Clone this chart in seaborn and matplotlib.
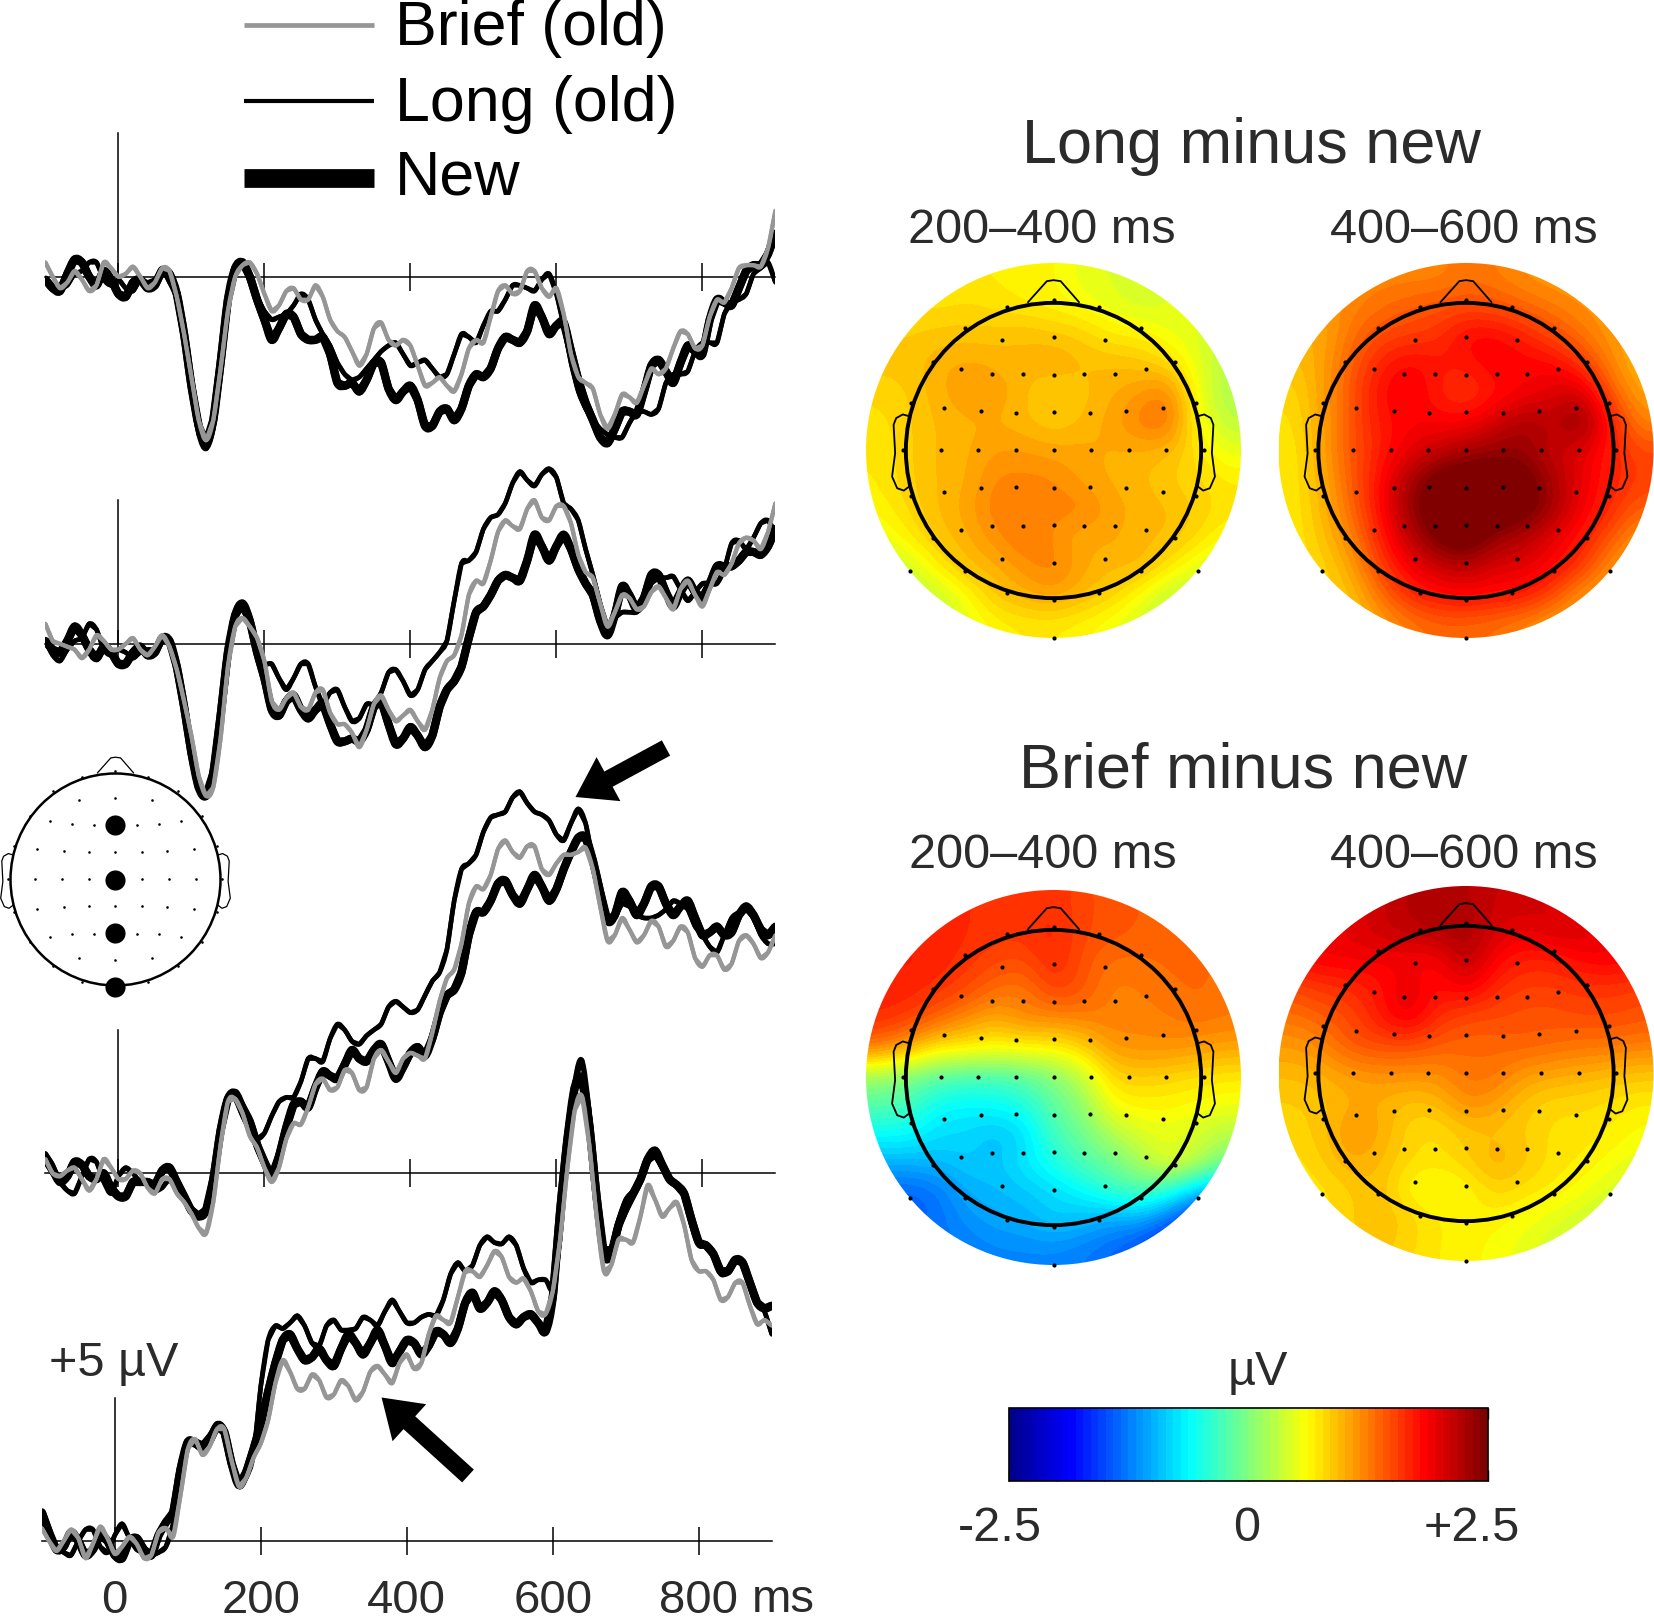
import numpy as np
import pandas as pd
import matplotlib
matplotlib.use("Agg")
import matplotlib.pyplot as plt
from matplotlib.colors import LinearSegmentedColormap, Normalize
from matplotlib.cm import ScalarMappable
from matplotlib.patches import Circle, PathPatch
from matplotlib.path import Path
import seaborn as sns

# ---------------- waveform data (microvolts, 10 ms steps) ----------------
times = list(range(-100, 901, 10))
conditions = ["New", "Long (old)", "Brief (old)"]

new_row1 = [-0.1,-0.4,-0.5,0.1,0.6,0.5,0.0,-0.3,0.2,-0.1,
-0.6,-0.7,-0.2,-0.1,-0.4,-0.3,0.2,0.1,-0.6,-2.0,
-3.8,-5.2,-5.8,-5.0,-3.0,-0.8,0.3,0.5,0.0,-0.8,
-1.5,-2.2,-1.8,-1.3,-1.4,-2.0,-2.2,-2.2,-2.1,-2.7,
-3.7,-3.8,-3.7,-4.0,-3.6,-3.0,-3.0,-3.9,-4.3,-4.0,
-3.8,-4.3,-5.2,-5.2,-4.7,-4.6,-5.0,-4.6,-3.8,-3.4,
-3.5,-3.2,-2.5,-2.1,-2.2,-2.3,-1.9,-1.0,-1.4,-2.0,
-1.7,-1.6,-2.6,-3.6,-4.4,-5.0,-5.6,-5.8,-5.3,-4.7,
-4.7,-4.8,-4.0,-3.1,-2.9,-3.3,-3.7,-3.0,-2.4,-2.6,
-2.7,-1.5,-0.8,-0.9,-1.0,-0.4,0.2,0.4,0.4,0.8,1.5]
long_row1 = [-0.2,-0.3,-0.4,-0.3,0.1,0.2,0.5,0.5,-0.1,-0.3,
-0.1,-0.4,-0.5,-0.1,-0.2,-0.1,0.3,-0.2,-0.7,-2.2,
-4.0,-5.5,-6.0,-5.3,-3.3,-1.0,0.2,0.4,0.0,-0.7,
-1.2,-1.5,-1.4,-1.3,-1.0,-0.6,-0.8,-1.5,-2.0,-2.4,
-3.0,-3.4,-3.6,-3.5,-3.2,-2.9,-2.6,-2.4,-2.3,-2.7,
-3.1,-3.0,-2.9,-3.2,-3.5,-3.4,-2.7,-2.0,-2.1,-2.3,
-1.7,-1.2,-1.2,-0.8,-0.3,-0.3,-0.4,-0.5,-0.1,0.1,
-0.6,-1.7,-3.0,-4.0,-4.6,-5.0,-5.3,-5.5,-5.6,-5.6,
-5.1,-4.7,-4.7,-4.8,-4.6,-3.7,-3.4,-3.4,-3.3,-2.6,
-2.3,-2.3,-2.3,-1.3,-0.9,-0.8,-0.6,0.1,0.3,0.5,-0.2]
brief_row1 = [0.5,0.0,-0.4,-0.2,0.2,-0.1,-0.5,-0.3,0.5,0.3,
0.0,0.1,0.35,0.0,-0.4,-0.2,0.3,0.2,-0.7,-2.0,
-3.5,-5.0,-5.7,-5.0,-3.2,-1.2,0.0,0.4,0.5,0.1,
-0.6,-1.2,-1.0,-0.5,-0.4,-0.8,-0.8,-0.3,-0.7,-1.5,
-1.9,-2.1,-2.6,-3.1,-2.7,-1.8,-1.6,-2.2,-2.4,-2.2,
-2.4,-3.1,-3.8,-3.7,-3.5,-3.8,-4.0,-3.4,-2.5,-2.2,
-2.3,-1.4,-0.5,-0.3,-0.6,-0.5,0.2,0.2,-0.4,-0.7,
-0.4,-1.3,-2.7,-3.5,-3.7,-3.9,-4.8,-5.3,-4.8,-4.1,
-4.2,-4.4,-3.8,-3.2,-3.4,-3.2,-2.5,-1.9,-2.0,-2.5,
-2.4,-1.4,-0.8,-0.9,-0.4,0.3,0.4,0.4,0.35,1.0,2.3]

new_row2 = [0.1,-0.2,-0.3,0.1,0.6,0.3,-0.2,-0.5,-0.1,-0.3,
-0.7,-0.7,-0.3,-0.1,-0.4,-0.3,0.2,0.1,-0.8,-2.2,
-3.8,-5.0,-5.3,-4.5,-2.5,-0.3,1.0,1.4,0.8,-0.3,
-1.2,-2.3,-2.5,-2.0,-1.8,-2.3,-2.6,-2.3,-2.1,-2.8,
-3.4,-3.4,-3.3,-3.4,-3.0,-2.2,-2.0,-2.8,-3.5,-3.3,
-2.9,-3.2,-3.6,-3.2,-2.2,-1.6,-1.3,-0.8,0.2,1.1,
1.3,1.7,2.2,2.4,2.3,2.2,2.9,3.8,3.4,2.9,
3.4,3.8,3.3,2.6,2.1,1.7,0.8,0.3,1.0,2.0,
1.7,1.2,1.6,2.4,2.4,1.8,1.3,1.8,2.2,1.8,
1.6,2.1,2.7,2.7,2.7,2.9,3.2,3.2,3.1,3.4,4.0]
long_row2 = [0.1,-0.4,-0.6,-0.2,0.1,0.2,0.7,0.5,-0.2,-0.4,
-0.2,-0.3,-0.5,-0.3,-0.2,-0.2,0.1,0.0,-0.7,-2.2,
-3.8,-5.0,-5.3,-4.3,-2.3,-0.1,1.1,1.2,0.7,-0.2,
-0.7,-0.7,-1.2,-1.6,-1.2,-0.7,-0.7,-1.5,-2.1,-1.7,
-1.6,-2.2,-2.7,-2.6,-2.1,-2.1,-1.7,-1.0,-0.9,-1.3,
-1.8,-1.6,-0.9,-0.6,-0.3,0.1,1.5,2.8,2.9,3.2,
4.0,4.4,4.5,4.9,5.6,6.0,5.7,5.5,5.9,6.1,
5.8,4.9,4.7,4.3,3.3,2.4,1.4,0.6,0.9,1.1,
1.1,1.1,1.4,2.1,2.3,2.3,2.35,1.9,1.5,1.8,
2.1,2.1,2.1,2.6,3.5,3.6,3.3,3.7,4.2,4.3,3.85]
brief_row2 = [0.7,0.1,0.0,-0.1,-0.2,-0.5,-0.2,0.3,0.1,-0.2,
-0.2,0.0,0.2,-0.2,-0.4,-0.1,0.3,-0.1,-0.9,-2.0,
-3.2,-4.6,-5.3,-5.0,-3.3,-0.8,0.6,0.9,0.6,0.2,
-0.6,-2.0,-2.3,-1.9,-1.7,-2.2,-2.3,-1.7,-1.6,-2.4,
-2.8,-2.8,-3.1,-3.6,-3.0,-2.1,-1.8,-2.3,-2.7,-2.5,
-2.3,-2.7,-3.0,-2.3,-1.2,-0.6,-0.4,0.3,1.7,2.2,
2.1,2.9,3.9,4.3,4.1,4.0,4.7,5.0,4.4,4.3,
4.8,4.8,4.2,3.1,2.5,2.3,1.4,0.6,1.1,1.7,
1.6,1.2,1.3,1.8,2.0,1.6,1.2,1.9,2.2,1.7,
1.3,1.9,2.5,2.4,2.8,3.5,3.7,3.6,3.3,3.9,4.9]

new_row3 = [0.5,0.1,-0.3,-0.1,0.4,0.3,-0.1,-0.2,0.0,-0.5,
-0.8,-0.8,-0.3,-0.3,-0.3,-0.4,0.1,0.2,-0.3,-0.8,
-1.3,-1.5,-1.3,-0.2,1.5,2.6,2.8,2.3,1.8,1.0,
0.4,-0.1,0.6,1.6,2.4,2.5,2.3,3.0,3.55,3.4,
3.3,3.8,4.3,4.0,3.9,4.3,4.5,3.9,3.3,3.7,
4.2,4.4,4.1,4.7,5.6,6.2,6.4,7.0,8.3,9.1,
9.1,9.5,10.1,10.2,9.7,9.4,9.9,10.4,10.0,9.5,
9.9,10.6,11.2,11.7,11.7,10.9,9.8,8.8,9.0,9.8,
9.5,9.0,9.4,10.0,10.0,9.4,9.0,9.3,9.5,8.9,
8.3,8.4,8.6,8.3,8.4,9.0,9.3,9.0,8.5,8.3,8.6]
long_row3 = [0.7,0.3,-0.3,-0.6,-0.7,-0.1,0.5,0.4,-0.3,-0.7,
-0.1,0.2,0.0,-0.3,-0.3,-0.6,-0.5,-0.2,-0.6,-0.9,
-1.2,-1.4,-1.2,0.0,1.7,2.7,2.6,2.0,1.5,1.2,
1.4,2.0,2.5,2.65,2.65,3.2,4.0,4.0,3.9,4.7,
5.2,5.0,4.6,4.5,4.8,5.0,5.2,5.8,6.0,5.8,
5.6,5.7,6.2,6.7,7.0,7.8,9.5,10.6,10.8,11.1,
11.9,12.4,12.5,12.6,13.1,13.3,12.9,12.6,12.5,12.3,
11.8,11.6,12.2,12.7,12.2,10.9,9.7,8.8,8.9,9.4,
9.3,9.0,8.9,8.9,9.0,9.2,9.5,9.4,9.2,8.6,
8.3,7.9,7.7,8.3,8.9,9.1,9.2,8.9,8.3,8.0,8.0]
brief_row3 = [0.5,0.0,-0.1,0.1,0.2,-0.2,-0.6,-0.2,0.5,0.2,
-0.2,-0.2,0.1,0.0,-0.5,-0.7,-0.2,-0.2,-0.7,-1.0,
-1.4,-1.9,-2.1,-1.0,1.0,2.5,2.6,2.1,1.3,0.9,
0.2,-0.3,0.2,1.2,1.75,1.7,2.3,3.1,3.3,2.9,
3.0,3.6,3.5,2.9,3.0,4.0,4.3,3.9,3.5,4.0,
4.2,4.1,4.0,4.9,6.0,6.8,7.1,8.0,9.4,10.0,
9.9,10.4,11.3,11.6,11.2,11.0,11.4,11.4,10.6,10.4,
10.8,11.1,11.1,11.2,11.35,10.6,9.3,8.1,8.3,8.9,
8.5,8.05,8.3,8.8,8.6,7.9,8.1,8.6,8.4,7.5,
7.2,7.6,7.6,7.1,7.3,8.1,8.3,8.0,7.5,7.7,8.3]

new_row4 = [1.0,0.3,-0.3,-0.2,0.3,0.0,-0.5,-0.3,0.2,0.0,
-0.5,-0.6,0.0,0.1,-0.3,-0.5,0.2,0.65,1.0,2.5,
3.45,3.4,3.25,3.5,4.0,3.8,2.7,1.95,2.4,3.2,
4.1,5.2,6.2,7.0,7.2,6.7,6.3,6.4,6.7,6.3,
6.1,6.7,7.2,6.9,6.5,6.9,7.35,6.8,6.2,6.6,
7.0,6.9,6.5,6.8,7.3,7.2,6.9,7.4,8.3,8.65,
8.1,8.3,8.7,8.4,7.8,7.55,7.8,7.9,7.6,7.3,
8.5,11.5,14.0,15.8,16.1,14.5,12.0,10.0,10.0,11.0,
11.6,12.1,12.6,13.3,13.6,13.1,12.6,12.4,12.1,11.2,
10.4,10.3,10.0,9.4,9.4,9.8,9.7,9.0,8.3,8.1,8.2]
long_row4 = [1.0,0.2,-0.2,-0.4,-0.5,0.0,0.4,0.4,-0.2,-0.4,
0.2,0.6,0.1,-0.3,-0.4,-0.5,-0.4,-0.2,0.6,2.4,
3.4,3.5,3.4,3.7,4.1,3.9,2.8,1.9,2.2,3.0,
5.4,7.0,7.5,7.4,7.6,7.85,7.5,6.9,6.8,7.5,
7.7,7.35,7.35,7.4,7.8,7.7,7.5,8.0,8.4,8.0,
7.6,7.6,7.8,7.9,7.85,8.4,9.3,9.7,9.4,9.6,
10.3,10.6,10.4,10.35,10.6,10.3,9.5,9.0,9.1,9.1,
8.8,10.5,13.5,16.0,16.75,15.0,12.2,10.2,10.2,11.2,
11.9,12.2,12.5,13.2,13.4,13.0,12.6,12.4,12.1,11.0,
10.3,10.3,10.0,9.3,9.4,9.8,9.7,9.0,8.3,8.0,7.2]
brief_row4 = [0.45,0.0,-0.35,0.0,0.4,0.1,-0.6,-0.1,0.5,0.1,
-0.45,-0.2,0.15,-0.1,-0.6,-0.5,0.3,0.45,0.15,1.6,
3.2,3.55,3.0,3.3,3.9,3.9,2.8,1.9,2.2,2.9,
3.4,4.2,5.5,6.3,5.9,5.3,5.3,5.8,5.6,5.0,
5.1,5.6,5.4,4.9,5.2,5.9,6.1,5.8,5.5,6.2,
6.5,6.0,6.2,7.2,7.85,7.7,7.6,8.5,9.4,9.4,
9.2,9.6,10.1,9.9,9.2,9.0,9.15,8.7,8.0,7.9,
8.7,10.5,13.0,15.0,15.5,13.8,11.3,9.4,9.6,10.5,
10.5,10.4,11.3,12.4,11.9,11.3,11.6,11.8,11.0,9.8,
9.4,9.4,9.1,8.4,8.5,9.0,9.0,8.2,7.55,7.7,7.5]

# ---------------- scalp map data (microvolts, top row first) ----------------
long_200_400 = [
[.7,.7,.7,.7,.7,.65,.65,.5,.45,.45,.5,.5,.5],
[.8,.8,.75,.8,.75,.7,.65,.6,.5,.4,.45,.5,.5],
[.85,.85,.9,.9,.9,.95,.9,.85,.7,.7,.55,.45,.35],
[.9,.9,1.0,1.05,1.0,.95,1.05,.95,.95,.9,.8,.5,.25],
[.8,.85,1.0,1.1,1.1,.95,.8,.9,1.0,1.1,1.25,.55,.2],
[.75,.85,.95,1.0,1.0,.95,.85,.95,1.05,1.25,1.35,.6,.3],
[.7,.85,.95,1.0,1.1,1.1,1.05,1.05,1.0,1.0,.95,.75,.5],
[.7,.85,.95,1.0,1.2,1.2,1.2,1.05,1.0,.95,.85,.8,.7],
[.65,.8,.95,1.05,1.25,1.25,1.2,1.25,1.05,1.0,.95,.85,.75],
[.5,.7,.9,1.0,1.15,1.3,1.15,1.0,1.05,.95,.95,.8,.6],
[.3,.4,.7,.95,1.0,1.15,1.25,1.05,.95,1.0,.75,.5,.35],
[.3,.3,.35,.6,.9,1.0,1.1,.95,.85,.6,.3,.3,.3],
[.3,.3,.3,.5,.65,.7,.7,.65,.55,.4,.3,.3,.3]]
long_400_600 = [
[1.1,1.1,1.2,1.2,1.2,1.2,1.3,1.25,1.15,1.1,1.1,1.1,1.1],
[1.1,1.1,1.2,1.3,1.4,1.45,1.5,1.45,1.35,1.25,1.15,1.1,1.1],
[1.0,1.0,1.3,1.5,1.55,1.6,1.85,1.85,1.7,1.5,1.3,1.1,1.0],
[.9,1.05,1.4,1.7,1.85,1.75,1.75,1.9,1.85,1.85,1.6,1.2,.95],
[.8,1.05,1.45,1.8,1.95,1.7,1.55,1.75,1.85,2.0,2.1,1.4,1.05],
[.75,1.05,1.45,1.75,1.85,1.85,1.85,2.05,2.3,2.15,2.45,1.75,1.2],
[.7,1.05,1.45,1.7,1.95,2.1,2.25,2.35,2.35,2.1,2.0,1.7,1.5],
[.7,1.0,1.4,1.8,2.25,2.6,2.75,2.7,2.6,2.25,1.95,1.7,1.55],
[.7,.95,1.35,1.8,2.35,2.7,2.75,2.7,2.65,2.3,1.9,1.65,1.4],
[.7,.9,1.2,1.7,2.15,2.55,2.75,2.35,2.2,1.95,1.75,1.45,1.1],
[.7,.8,1.05,1.55,1.9,2.1,2.2,2.0,2.0,1.85,1.6,1.15,.95],
[.8,.8,.9,1.3,1.65,1.8,1.85,1.8,1.75,1.5,1.1,1.0,.95],
[.8,.8,.85,1.05,1.25,1.35,1.35,1.3,1.2,1.05,1.0,1.0,1.0]]
brief_200_400 = [
[1.6,1.6,1.65,1.65,1.6,1.6,1.65,1.5,1.45,1.4,1.4,1.4,1.4],
[1.7,1.7,1.7,1.65,1.6,1.6,1.7,1.5,1.45,1.4,1.35,1.35,1.35],
[1.7,1.75,1.7,1.6,1.5,1.45,1.7,1.45,1.3,1.3,1.35,1.35,1.3],
[1.7,1.7,1.6,1.5,1.3,1.25,1.55,1.45,1.2,1.25,1.3,1.35,1.3],
[1.65,1.55,1.35,1.15,1.0,1.2,1.15,1.2,1.25,1.2,1.25,1.3,1.25],
[1.25,1.0,.7,.7,.6,.65,.65,.8,1.1,1.15,1.15,1.1,1.05],
[.1,-.05,-.2,-.3,-.3,-.2,-.0,.3,.8,.85,.8,.75,.7],
[-.2,-.3,-.6,-.65,-.6,-.5,-.15,.05,.6,.65,.65,.6,.55],
[-.6,-.6,-.8,-.8,-.95,-.8,-.3,-.1,.2,.45,.5,.4,.25],
[-1.0,-1.0,-.95,-.85,-.9,-.7,-.5,-.25,-.1,.15,.55,.3,-.1],
[-1.4,-1.4,-1.3,-1.0,-.95,-.9,-.8,-.65,-.4,-.25,-.5,-1.0,-1.2],
[-1.4,-1.4,-1.3,-1.15,-1.05,-1.0,-.85,-.95,-1.1,-1.1,-1.4,-1.8,-1.8],
[-1.3,-1.3,-1.3,-1.25,-1.2,-1.2,-1.2,-1.25,-1.35,-1.5,-1.8,-1.9,-1.9]]
brief_400_600 = [
[1.7,1.8,1.9,2.1,2.2,2.25,2.2,2.1,2.1,2.0,1.9,1.8,1.8],
[1.8,1.9,2.0,2.1,2.2,2.25,2.3,2.05,1.95,2.1,2.05,1.9,1.8],
[1.85,1.9,1.9,1.9,1.85,1.85,2.25,1.85,1.7,1.7,1.85,1.9,1.85],
[1.5,1.6,1.65,1.75,2.0,1.75,1.95,1.65,1.55,1.55,1.6,1.6,1.55],
[1.3,1.4,1.5,1.75,2.0,1.65,1.5,1.5,1.45,1.45,1.5,1.5,1.45],
[1.1,1.2,1.45,1.5,1.5,1.4,1.35,1.35,1.4,1.35,1.3,1.3,1.25],
[.95,1.0,1.1,1.15,1.15,1.15,1.3,1.3,1.1,1.05,1.0,.95,.9],
[.85,.9,1.0,1.0,.9,.95,1.2,1.1,.9,.8,.8,.75,.7],
[.8,.9,1.15,1.05,.8,.75,.9,.9,.85,.75,.75,.7,.6],
[.75,.85,1.05,.95,.8,.75,.85,1.05,.9,.75,.7,.6,.5],
[.7,.75,.85,.95,.6,.55,.6,.85,.75,.7,.6,.45,.35],
[.7,.75,.85,.95,.85,.7,.7,.65,.6,.5,.4,.3,.3],
[.7,.75,.85,.9,.8,.7,.65,.6,.5,.4,.3,.3,.3]]

# electrode layout (map-crop units)
elec_cols = [298,398,498, 217,277,338,398,458,518,579, 183,257,325,398,470,540,613,
             177,251,324,398,471,545,619, 183,257,325,398,470,540,613,
             217,277,338,398,458,518,579, 298,398,498,
             398,307,488,225,570,162,635,119,677,103,692,119,677,162,635,225,570,307,488,398]
elec_rows = [302,292,302, 389,402,403,405,403,402,389, 504,515,519,518,519,515,504,
             630,630,630,630,630,630,630, 757,745,741,743,741,745,757,
             871,858,858,856,858,858,871, 958,968,958,
             180,203,203,265,265,366,366,491,491,630,630,769,769,893,893,993,993,1058,1058,1080]
outer_cols = [117,680,398]
outer_rows = [992,992,1192]
ear_cols = [117,103,90,85,88,82,92,105,117]
ear_rows = [530,524,535,555,640,710,745,752,738]
nose_cols = [348,385,398,412,448]
nose_rows = [188,125,122,125,188]
CX, CY, RX, RY = 398, 632, 289, 442
def unit(c, r):
    return (np.array(c, float) - CX) / RX, (CY - np.array(r, float)) / RY

# ---------------- style ----------------
W, H = 1654, 1620
sns.set_theme(style="white")
plt.rcParams["font.family"] = ["Liberation Sans", "DejaVu Sans"]
TEXT = "#2b2b2b"
PX_PER_UV = 28.7
PX_PER_MS = 0.73
GREY = "#969696"
fig = plt.figure(figsize=(W / 100, H / 100), dpi=100, facecolor="white")

def px_axes(x0, y0, x1, y1, **kw):
    ax = fig.add_axes([x0 / W, 1 - y1 / H, (x1 - x0) / W, (y1 - y0) / H], **kw)
    ax.patch.set_visible(False)
    return ax

def round_off(ax):
    """Draw each plotted line's own points once more as a smooth curve through them."""
    for k, line in enumerate(list(ax.lines)):
        pts = line.get_xydata()
        prev = np.vstack([pts[0], pts[:-2]])
        nxt = np.vstack([pts[2:], pts[-1]])
        c1 = pts[:-1] + (pts[1:] - prev) / 6
        c2 = pts[1:] - (nxt - pts[:-1]) / 6
        verts = np.empty((3 * len(c1) + 1, 2))
        verts[0] = pts[0]
        verts[1::3], verts[2::3], verts[3::3] = c1, c2, pts[1:]
        codes = [Path.MOVETO] + [Path.CURVE4] * (len(verts) - 1)
        line.set_zorder(3 + k)
        line.set_solid_joinstyle("round")
        ax.add_patch(PathPatch(Path(verts, codes), fill=False, edgecolor=line.get_color(),
                               lw=line.get_linewidth(), capstyle="butt", joinstyle="round",
                               zorder=3.5 + k))

# ---------------- waveforms ----------------
rows = [
    (new_row1, long_row1, brief_row1, 118.4, 276.7),
    (new_row2, long_row2, brief_row2, 118.4, 643.8),
    (new_row3, long_row3, brief_row3, 118.4, 1173.4),
    (new_row4, long_row4, brief_row4, 114.8, 1541.0),
]
YLOW, YHIGH = -7.0, 17.5
for i, (nw, lg, br, x0, base) in enumerate(rows):
    ax = px_axes(x0 - 100 * PX_PER_MS, base - YHIGH * PX_PER_UV, x0 + 900 * PX_PER_MS, base - YLOW * PX_PER_UV)
    frame = pd.DataFrame({
        "time": times * 3,
        "uv": nw + lg + br,
        "condition": [c for c in conditions for _ in times],
    })
    sns.lineplot(data=frame, x="time", y="uv", hue="condition", size="condition",
                 hue_order=conditions, size_order=conditions,
                 palette={"New": "black", "Long (old)": "black", "Brief (old)": GREY},
                 sizes={"New": 5.9, "Long (old)": 3.3, "Brief (old)": 3.0},
                 estimator=None, errorbar=None, sort=False, legend=False, ax=ax)
    round_off(ax)
    ax.set_xlim(-100, 900)
    ax.set_ylim(YLOW, YHIGH)
    ax.set_xlabel("")
    ax.set_ylabel("")
    for s in ("top", "right"):
        ax.spines[s].set_visible(False)
    ax.spines["bottom"].set_position(("data", 0))
    ax.spines["left"].set_position(("data", 0))
    ax.spines["left"].set_bounds(0, 5)
    for s in ("bottom", "left"):
        ax.spines[s].set_color("black")
        ax.spines[s].set_linewidth(1.1)
    ax.set_yticks([])
    ax.set_xticks([0, 200, 400, 600, 800])
    ax.tick_params(axis="x", direction="inout", length=20, width=1.1, color="black",
                   bottom=True, pad=17.5, labelsize=34, labelcolor=TEXT,
                   labelbottom=(i == 3))

# ---------------- scalp maps ----------------
jet = LinearSegmentedColormap.from_list(
    "matlab_jet",
    [(0, "#00008f"), (.125, "#0000ff"), (.375, "#00ffff"), (.625, "#ffff00"), (.875, "#ff0000"), (1, "#800000")],
    N=64)
ex, ey = unit(elec_cols, elec_rows)
ox, oy = unit(outer_cols, outer_rows)
eax, eay = unit(ear_cols, ear_rows)
nx, ny = unit(nose_cols, nose_rows)
R = 1.27

def head(ax, lw_head, lw_thin):
    ax.add_patch(Circle((0, 0), 1, fill=False, ec="black", lw=lw_head, zorder=4))
    ax.plot(nx, ny, color="black", lw=lw_thin, zorder=4)
    ax.plot(eax, eay, color="black", lw=lw_thin, zorder=4)
    ax.plot(-eax, eay, color="black", lw=lw_thin, zorder=4)
    ax.set_xlim(-R, R)
    ax.set_ylim(-R, R)
    ax.axis("off")

maps = [
    (long_200_400, 1053.5, 450.5),
    (long_400_600, 1466.0, 450.5),
    (brief_200_400, 1053.5, 1077.5),
    (brief_400_600, 1466.0, 1073.5),
]
for grid, cx, cy in maps:
    ax = px_axes(cx - 187.5, cy - 187.5, cx + 187.5, cy + 187.5)
    im = ax.imshow(np.array(grid), extent=(-R, R, -R, R), cmap=jet, vmin=-2.5, vmax=2.5,
                   interpolation="bicubic", aspect="auto", zorder=1)
    im.set_clip_path(Circle((0, 0), R, transform=ax.transData))
    head(ax, 2.8, 1.3)
    ax.scatter(ex, ey, s=9, color="black", linewidths=0, zorder=5, clip_on=False)
    ax.scatter(ox, oy, s=9, color="black", linewidths=0, zorder=5, clip_on=False)

# electrode inset
ax = px_axes(115.5 - 105 * R, 879.5 - 106 * R, 115.5 + 105 * R, 879.5 + 106 * R)
head(ax, 1.8, 0.9)
ax.scatter(ex, ey, s=3.5, color="black", linewidths=0, zorder=5)
highlight_y = [0.51, 0.0, -0.505, -1.01]
ax.scatter([0, 0, 0, 0], highlight_y, s=210, color="black", linewidths=0, zorder=6, clip_on=False)

# ---------------- colour bar ----------------
cax = px_axes(1008.5, 1408, 1487.5, 1481)
cb = fig.colorbar(ScalarMappable(Normalize(-2.5, 2.5), jet), cax=cax, orientation="horizontal",
                  ticks=np.linspace(-2.5, 2.5, 11))
cb.outline.set_linewidth(1.2)
cb.outline.set_edgecolor("black")
cax.tick_params(axis="x", direction="in", length=8, width=1, color="black",
                top=True, bottom=True, labelbottom=False)

# ---------------- overlay: legend, titles, arrows ----------------
ov = px_axes(0, 0, W, H, zorder=10)
ov.set_xlim(0, W)
ov.set_ylim(H, 0)
ov.axis("off")

legend_entries = [("Brief (old)", GREY, 3.4, 45.5, 25), ("Long (old)", "black", 3.0, 120.5, 101), ("New", "black", 13.5, 194.5, 178)]
for label, col, lw, y, yline in legend_entries:
    ov.plot([244, 374], [yline, yline], color=col, lw=lw, solid_capstyle="butt")
    ov.text(395, y, label, fontsize=45.2, color="black", va="baseline", ha="left")

texts = [
    ("Long minus new", 1251, 162.5, 45.4),
    ("Brief minus new", 1243, 788, 45.4),
    ("200\u2013400 ms", 1042, 243, 35),
    ("400\u2013600 ms", 1464, 243, 35),
    ("200\u2013400 ms", 1043, 868, 35),
    ("400\u2013600 ms", 1464, 868, 35),
    ("\u00b5V", 1258, 1385, 35),
    ("-2.5", 1000, 1541, 35),
    ("0", 1247, 1541, 35),
    ("+2.5", 1472, 1541, 35),
    ("+5 \u00b5V", 113.5, 1376, 35),
]
for s, x, y, fs in texts:
    ov.text(x, y, s, fontsize=fs, color=TEXT, ha="center", va="baseline")
ov.text(752, 1612, "ms", fontsize=34, color=TEXT, ha="left", va="baseline")

arrow = dict(facecolor="black", edgecolor="none", width=12.5, headwidth=36, headlength=27, shrink=0)
ov.annotate("", xy=(575.5, 797), xytext=(666, 748), arrowprops=arrow)
ov.annotate("", xy=(381.6, 1397.5), xytext=(468, 1476), arrowprops=arrow)

fig.savefig("out.png", dpi=100, facecolor="white")
